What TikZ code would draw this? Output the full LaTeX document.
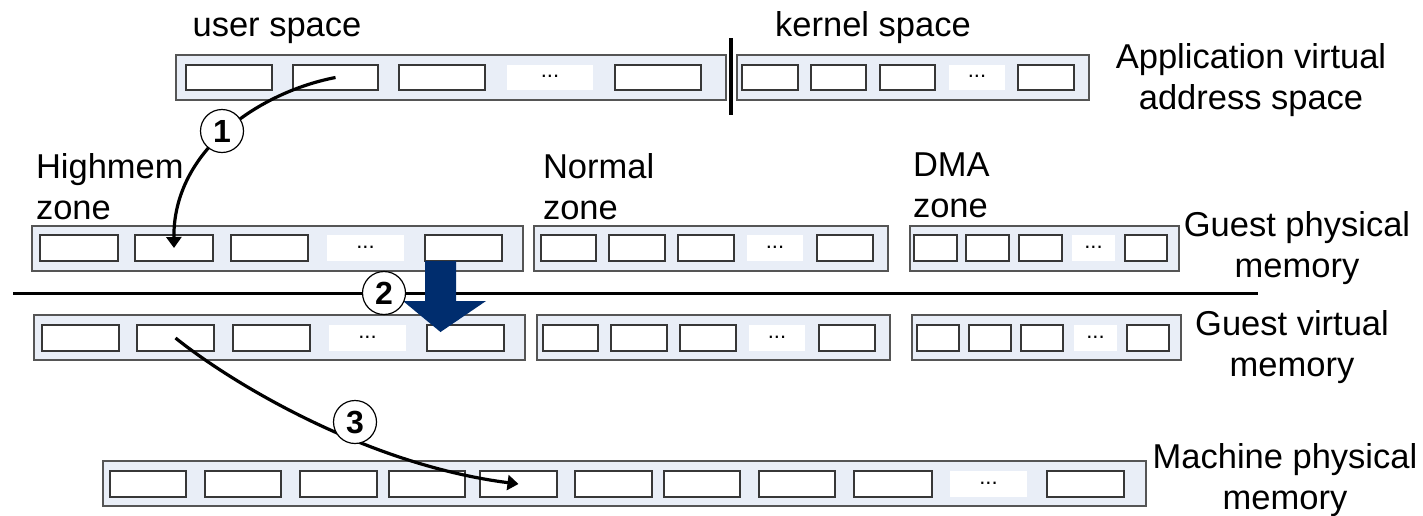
\documentclass[tikz,border=0pt]{standalone}
\usepackage{fontspec}
\setmainfont{Liberation Sans}
\usetikzlibrary{fit,arrows.meta}
\definecolor{barfill}{RGB}{233,238,247}
\definecolor{barline}{RGB}{85,85,85}
\definecolor{cellline}{RGB}{55,55,55}
\definecolor{navy}{RGB}{0,45,110}
\begin{document}
\begin{tikzpicture}[x=1pt,y=-1pt,
  bar/.style={draw=barline, fill=barfill, line width=1.3pt, inner sep=0pt, outer sep=0pt},
  cell/.style={draw=cellline, fill=white, line width=1.3pt, inner sep=0pt, outer sep=0pt},
  gap/.style={fill=white, inner sep=0pt, outer sep=0pt, font=\fontsize{22}{22}\selectfont},
  lbl/.style={inner sep=0pt, outer sep=0pt, font=\fontsize{34.5}{41}\selectfont},
  num/.style={circle, draw, fill=white, line width=1.2pt, minimum size=43pt, inner sep=0pt,
              font=\fontsize{32}{32}\selectfont\bfseries},
  conn/.style={line width=3.2pt, -{Triangle[length=11pt,width=15pt]}},
  rule/.style={line width=3pt}
  ]
\useasboundingbox (0,0) rectangle (1423,515);

% ---- memory strips ----
\node[bar, fit={(176,55) (726,100)}] (usr) {};
\node[bar, fit={(737,55) (1089,100)}] (krn) {};
\node[bar, fit={(32,226) (523,271)}] (hm) {};
\node[bar, fit={(534,226) (888,271)}] (nm) {};
\node[bar, fit={(910,226) (1179,271)}] (dm) {};
\node[bar, fit={(34,315) (525,360)}] (gvh) {};
\node[bar, fit={(537,315) (890,360)}] (gvn) {};
\node[bar, fit={(912,315) (1181,360)}] (gvd) {};
\node[bar, fit={(103,461) (1146,506)}] (mach) {};

% ---- page cells ----
\foreach \n/\a/\b in {u1/186/272, u2/293/378, u3/399/485, u5/615/701,
                      k1/742/798, k2/811/866, k3/880/935, k5/1018/1074}
  \node[cell, fit={(\a,65) (\b,90)}] (\n) {};
\foreach \n/\a/\b in {h1/40/118, h2/135/213, h3/231/308, h5/425/502,
                      n1/541/596, n2/609/665, n3/678/734, n5/817/873,
                      d1/914/957, d2/966/1009, d3/1019/1062, d5/1125/1167}
  \node[cell, fit={(\a,235) (\b,261)}] (\n) {};
\foreach \n/\a/\b in {v1/42/119, v2/137/214, v3/233/310, v5/427/504,
                      vn1/543/598, vn2/611/667, vn3/680/736, vn5/819/875,
                      vd1/917/959, vd2/969/1011, vd3/1021/1063, vd5/1127/1169}
  \node[cell, fit={(\a,325) (\b,351)}] (\n) {};
\foreach \n/\a/\b in {m1/110/186, m2/205/281, m3/300/377, m4/389/465, m5/480/557,
                      m6/575/652, m7/664/740, m8/759/835, m9/854/932, m11/1047/1124}
  \node[cell, fit={(\a,471) (\b,497)}] (\n) {};

% ---- elided cells ----
\foreach \n/\a/\b/\t/\s in {ud/507/593/65/90, kd/949/1005/65/90,
                            hd/327/404/235/261, nd/747/803/235/261, dd/1072/1115/235/261,
                            vd/329/406/325/351, vnd/749/805/325/351, vdd/1074/1117/325/351,
                            md/950/1027/471/497}
  \node[gap, fit={(\a,\t) (\b,\s)}] (\n) {...};

% ---- separators ----
\coordinate (vsTop) at (731,38);
\coordinate (vsBot) at (731,115);
\draw[line width=4pt] (vsTop) -- (vsBot);
\coordinate (hsL) at (13,293);
\coordinate (hsR) at (1258,293);
\draw[rule] (hsL) -- (hsR);

% ---- translations ----
\draw[conn] (u2.center) .. controls +(-75.5,14.5) and +(-1,-98) .. (h2.center);
\draw[conn] (v2.center) .. controls +(60,48) and +(-148.5,-19) .. (m5.center);

% guest physical -> guest virtual
\coordinate (bt) at (h5.south west);
\fill[navy] (bt) -- ++(31,0) -- ++(0,40) -- ++(30,0) -- ++(-45.5,31)
            -- ++(-37.5,-31) -- ++(22,0) -- cycle;

% ---- step markers ----
\node[num] (c1) at (222,131) {1};
\node[num] (c2) at (384,293) {2};
\node[num] (c3) at (355,422) {3};

% ---- labels ----
\node[lbl, anchor=base] (tus) at (277,36) {user space};
\node[lbl, anchor=base] (tks) at (873,36) {kernel space};
\node[lbl, align=center, anchor=north] (tav) at (1251,43) {Application virtual\\address space};
\node[lbl, align=left, anchor=north west] (thz) at (36,153) {Highmem\\zone};
\node[lbl, align=left, anchor=north west] (tnz) at (543,153) {Normal\\zone};
\node[lbl, align=left, anchor=north west] (tdz) at (913,153) {DMA\\zone};
\node[lbl, align=center, anchor=north] (tgp) at (1297,211) {Guest physical\\memory};
\node[lbl, align=center, anchor=north] (tgv) at (1292,310) {Guest virtual\\memory};
\node[lbl, align=center, anchor=north] (tmp) at (1285,443) {Machine physical\\memory};
\end{tikzpicture}
\end{document}
